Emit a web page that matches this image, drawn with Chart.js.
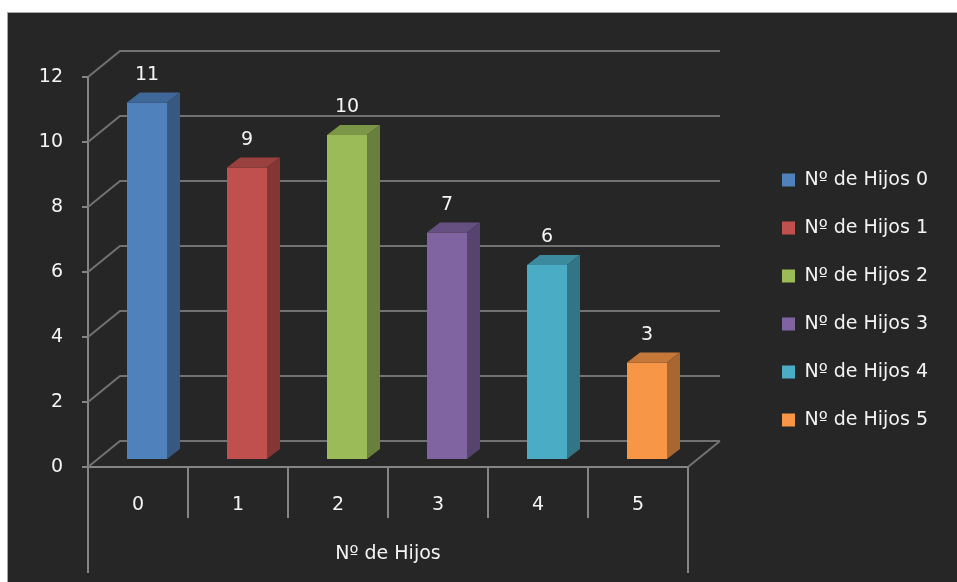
<!DOCTYPE html>
<html>
<head>
<meta charset="utf-8">
<script src="https://cdn.jsdelivr.net/npm/chart.js@4.4.1/dist/chart.umd.min.js"></script>
<style>
  body { margin: 0; background: #fff; }
  #frame {
    position: absolute; left: 7px; top: 12px;
    width: 949px; height: 569px;
    background: #262626;
    border-top: 1px solid #a6a6a6; border-left: 1px solid #a6a6a6;
    overflow: hidden;
  }
</style>
</head>
<body>
<div id="frame"><canvas id="hijos" width="980" height="569"></canvas></div>
<script>
const categories = ['0', '1', '2', '3', '4', '5']
const seriesNames = ['Nº de Hijos 0', 'Nº de Hijos 1', 'Nº de Hijos 2', 'Nº de Hijos 3', 'Nº de Hijos 4', 'Nº de Hijos 5']
const counts = [11, 9, 10, 7, 6, 3]
const yMax = 12
const yStep = 2

const barColors = ['#4F81BD', '#C0504D', '#9BBB59', '#8064A2', '#4BACC6', '#F79646']
const TEXT = '#f4f4f4'
const AXIS = '#858585'
const WALL = '#727272'
const FONT = { family: 'DejaVu Sans', size: 19 }

// oblique offsets: back wall, bar plane, bar depth
const WALL_DX = 32, WALL_DY = -26
const BAR_DX = 9, BAR_DY = -7
const DEPTH_DX = 13, DEPTH_DY = -10

function shade(hex, f) {
  let n = parseInt(hex.slice(1), 16)
  let r = Math.round(((n >> 16) & 255) * f)
  let g = Math.round(((n >> 8) & 255) * f)
  let b = Math.round((n & 255) * f)
  return 'rgb(' + r + ',' + g + ',' + b + ')'
}

// fake 3D: walls behind the bars, then side/top faces and value labels
const depth3d = {
  id: 'depth3d',
  beforeDatasetsDraw(chart) {
    let ctx = chart.ctx
    let a = chart.chartArea
    let y = chart.scales.y
    let y0 = y.getPixelForValue(0)

    ctx.save()
    ctx.lineWidth = 2
    ctx.strokeStyle = WALL
    y.ticks.forEach(function (t) {
      let py = y.getPixelForValue(t.value)
      ctx.beginPath()
      ctx.moveTo(a.left, py)
      ctx.lineTo(a.left + WALL_DX, py + WALL_DY)
      ctx.lineTo(a.right + WALL_DX, py + WALL_DY)
      ctx.stroke()
    })
    ctx.beginPath()
    ctx.moveTo(a.right, y0)
    ctx.lineTo(a.right + WALL_DX, y0 + WALL_DY)
    ctx.stroke()

    // outer lines of the category box
    ctx.strokeStyle = AXIS
    ctx.beginPath()
    ctx.moveTo(a.left, y0)
    ctx.lineTo(a.left, y0 + 106)
    ctx.moveTo(a.right, y0)
    ctx.lineTo(a.right, y0 + 106)
    ctx.stroke()
    ctx.restore()

    ctx.save()
    ctx.translate(BAR_DX, BAR_DY)
  },
  afterDatasetsDraw(chart) {
    let ctx = chart.ctx
    let bars = chart.getDatasetMeta(0).data
    bars.forEach(function (bar, i) {
      let x0 = bar.x - bar.width / 2
      let x1 = bar.x + bar.width / 2
      let col = barColors[i]

      ctx.fillStyle = shade(col, 0.8)
      ctx.beginPath()
      ctx.moveTo(x0, bar.y)
      ctx.lineTo(x1, bar.y)
      ctx.lineTo(x1 + DEPTH_DX, bar.y + DEPTH_DY)
      ctx.lineTo(x0 + DEPTH_DX, bar.y + DEPTH_DY)
      ctx.closePath()
      ctx.fill()

      ctx.fillStyle = shade(col, 0.68)
      ctx.beginPath()
      ctx.moveTo(x1, bar.y)
      ctx.lineTo(x1 + DEPTH_DX, bar.y + DEPTH_DY)
      ctx.lineTo(x1 + DEPTH_DX, bar.base + DEPTH_DY)
      ctx.lineTo(x1, bar.base)
      ctx.closePath()
      ctx.fill()

      ctx.fillStyle = TEXT
      ctx.font = FONT.size + 'px "' + FONT.family + '"'
      ctx.textAlign = 'center'
      ctx.textBaseline = 'middle'
      ctx.fillText(String(counts[i]), bar.x, bar.y - 27.5)
    })
    ctx.restore()
  }
}

let ctx = document.getElementById('hijos').getContext('2d')
let chart = new Chart(ctx, {
  type: 'bar',
  data: {
    labels: categories,
    datasets: [{
      label: 'Nº de Hijos',
      data: counts,
      backgroundColor: barColors,
      borderWidth: 0,
      barPercentage: 0.4,
      categoryPercentage: 1
    }]
  },
  options: {
    responsive: false,
    animation: false,
    events: [],
    layout: { padding: { top: 5 } },
    scales: {
      x: {
        grid: { drawOnChartArea: false, tickLength: 51, color: AXIS, lineWidth: 2 },
        border: { color: AXIS, width: 2 },
        ticks: { color: TEXT, font: FONT, padding: -24, maxRotation: 0 },
        title: { display: true, text: 'Nº de Hijos', color: TEXT, font: FONT, padding: { top: 0, bottom: 17 } },
        afterFit(s) {
          s.height = 115
          s.paddingLeft = 0
          s.paddingRight = 300
        }
      },
      y: {
        min: 0,
        max: yMax,
        ticks: { stepSize: yStep, color: TEXT, font: FONT, padding: 19 },
        grid: { drawOnChartArea: false, tickLength: 6, color: AXIS, lineWidth: 2 },
        border: { color: AXIS, width: 2 },
        afterFit(s) {
          s.width = 80
          s.paddingTop = 64
        }
      },
      // empty axis that keeps the legend away from the plot
      gap: {
        type: 'linear',
        position: 'right',
        ticks: { display: false },
        grid: { display: false },
        border: { display: false },
        afterFit(s) { s.width = 65 }
      }
    },
    plugins: {
      tooltip: { enabled: false },
      legend: {
        position: 'right',
        maxWidth: 400,
        labels: {
          color: TEXT,
          font: FONT,
          boxWidth: 13,
          boxHeight: 13,
          padding: 29,
          generateLabels(chart) {
            return seriesNames.map(function (name, i) {
              return {
                text: name,
                fillStyle: barColors[i],
                strokeStyle: barColors[i],
                lineWidth: 0,
                fontColor: TEXT,
                hidden: false,
                index: i,
                datasetIndex: 0
              }
            })
          }
        }
      }
    }
  },
  plugins: [depth3d]
})
</script>
</body>
</html>
